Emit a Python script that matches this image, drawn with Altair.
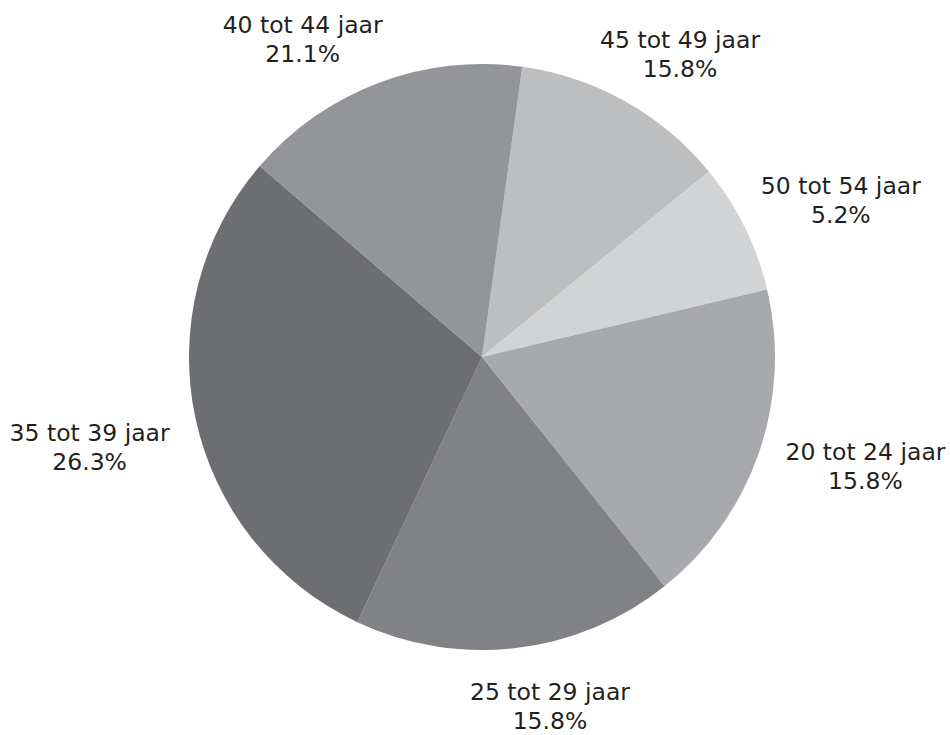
import math
import altair as alt
import pandas as pd

# Slices in clockwise order starting near 12 o'clock
categories = ["45 tot 49 jaar", "50 tot 54 jaar", "20 tot 24 jaar",
              "25 tot 29 jaar", "35 tot 39 jaar", "40 tot 44 jaar"]
slice_share = [11.9, 7.2, 18.0, 17.7, 29.3, 15.9]     # drawn slice sizes (%)
label_pct = ["15.8%", "5.2%", "15.8%", "15.8%", "26.3%", "21.1%"]
colors = ["#bcbec0", "#d1d3d4", "#a7a9ac", "#808285", "#6d6e71", "#939598"]

# label placement (style): angular shift from slice middle (deg) and distance (px)
label_shift = [3.95, 2.9, -3.0, -4.3, -1.1, -8.8]
label_dist = [361, 391, 399, 357, 403, 364]

start = 7.9 * math.pi / 180

df = pd.DataFrame({
    "cat": categories,
    "share": slice_share,
    "order": list(range(len(categories))),
    "label": [c + "\n" + p for c, p in zip(categories, label_pct)],
    "shift": label_shift,
    "dist": label_dist,
})

base = alt.Chart(df)

arcs = base.mark_arc(radius=293, stroke=None).encode(
    theta=alt.Theta("share:Q", stack=True,
                    scale=alt.Scale(range=[start, start + 2 * math.pi])),
    color=alt.Color("cat:N", scale=alt.Scale(domain=categories, range=colors), legend=None),
    order=alt.Order("order:Q"),
)

labels = base.transform_joinaggregate(
    total="sum(share)"
).transform_window(
    cum="sum(share)", sort=[alt.SortField("order")], frame=[None, 0]
).transform_calculate(
    mid=f"{start} + 2*PI*(datum.cum - datum.share/2)/datum.total + datum.shift*PI/180"
).mark_text(
    font="DejaVu Sans", fontSize=23.5, color="#231f20", lineBreak="\n",
    lineHeight=29, align="center", baseline="middle", dy=-14.5
).encode(
    theta=alt.Theta("mid:Q", scale=None),
    radius=alt.Radius("dist:Q", scale=None),
    text="label:N",
)

chart = alt.layer(arcs, labels).resolve_scale(theta="independent").properties(
    width=936, height=714,
    padding={"left": 14, "top": 0, "right": 0, "bottom": 21},
    autosize=alt.AutoSizeParams(type="none"),
    background="white",
).configure_view(stroke=None, clip=False)

chart.save("out.html", embed_options={"renderer": "svg", "actions": False})
